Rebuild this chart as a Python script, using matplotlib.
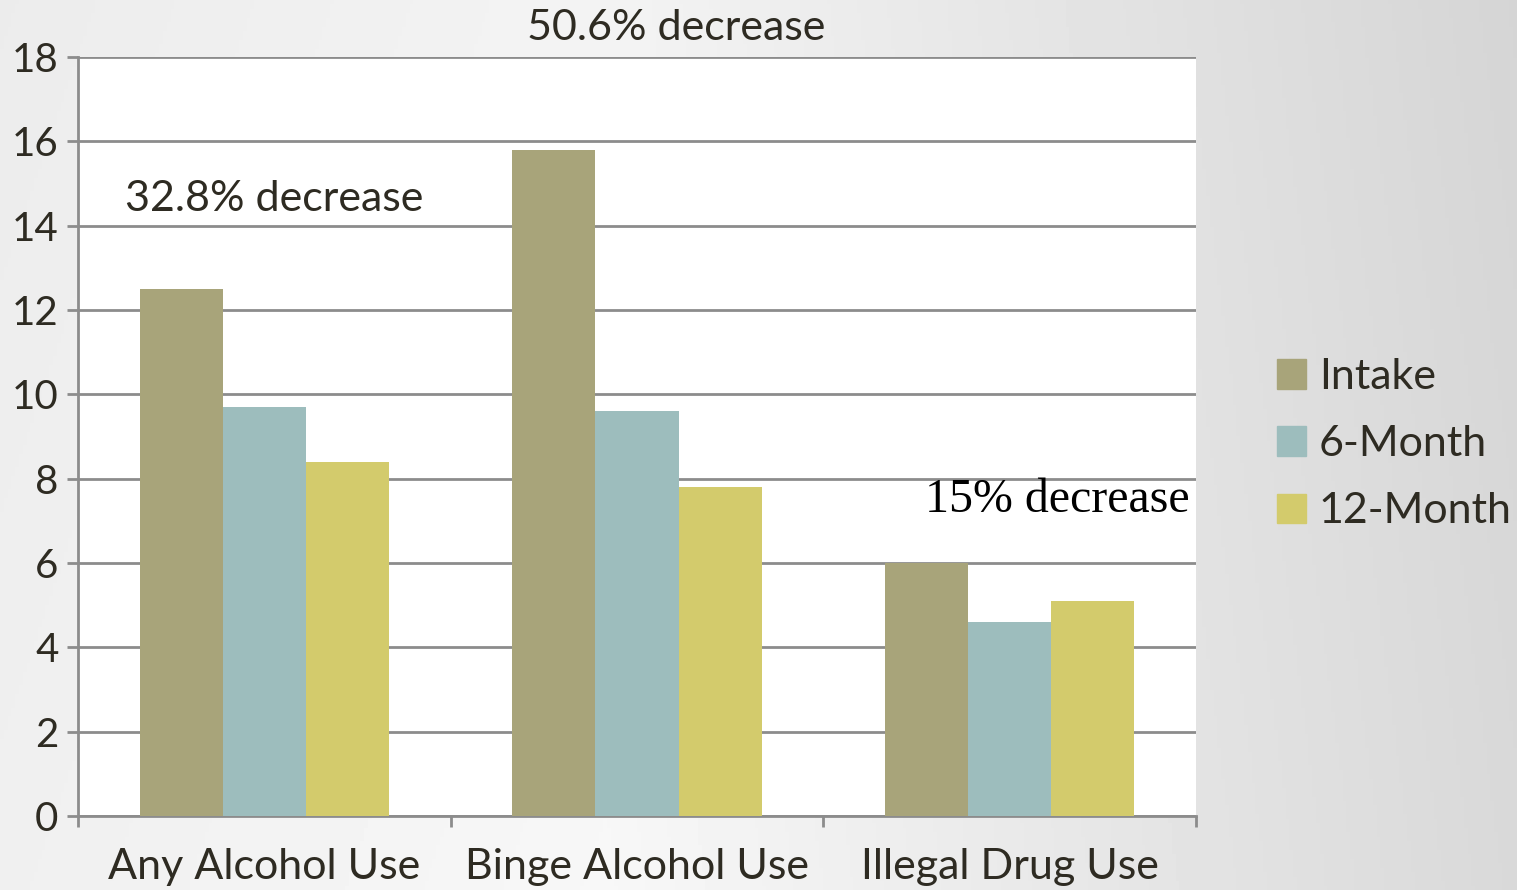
import numpy as np
import matplotlib.pyplot as plt
from matplotlib.patches import Patch

categories = ['Any Alcohol Use', 'Binge Alcohol Use', 'Illegal Drug Use']
series = ['Intake', '6-Month', '12-Month']
intake = [12.5, 15.8, 6.0]
six_month = [9.7, 9.6, 4.6]
twelve_month = [8.4, 7.8, 5.1]
notes = ['32.8% decrease', '50.6% decrease', '15% decrease']

colors = ['#a8a47a', '#9dbdbd', '#d3cb6c']
text_color = '#2e2b22'
grid_color = '#8c8c8c'
sans = 'Lato'

fig = plt.figure(figsize=(15.17, 8.9), dpi=100)

# slide-like grey gradient behind everything
bg = fig.add_axes([0, 0, 1, 1], zorder=-10)
xx = np.linspace(0, 1, 400)
yy = np.linspace(0, 1, 200)
X, Y = np.meshgrid(xx, yy)
shade = np.interp(X, [0, 0.4, 0.75, 1], [0.94, 0.97, 0.90, 0.85]) - 0.015 * (1 - Y)
bg.imshow(shade, cmap='gray', vmin=0, vmax=1, aspect='auto', extent=[0, 1, 0, 1])
bg.axis('off')

ax = fig.add_axes([0.0514, 0.0831, 0.7370, 0.8529])
ax.set_facecolor('white')

x = np.arange(len(categories))
width = 0.223
for i, (vals, name) in enumerate(zip([intake, six_month, twelve_month], series)):
    ax.bar(x + (i - 1) * width, vals, width, color=colors[i], label=name, zorder=3)

ax.set_xlim(-0.5, 2.5)
ax.set_ylim(0, 18)
ax.set_yticks(np.arange(0, 19, 2))
ax.yaxis.grid(True, color=grid_color, linewidth=2, zorder=0)
ax.set_axisbelow(True)

for side in ['top', 'right']:
    ax.spines[side].set_visible(False)
for side in ['left', 'bottom']:
    ax.spines[side].set_color(grid_color)
    ax.spines[side].set_linewidth(2)

ax.set_xticks(x)
ax.set_xticklabels(categories)
ax.set_xticks([-0.5, 0.5, 1.5, 2.5], minor=True)
ax.tick_params(axis='x', which='major', length=0, pad=23,
               labelsize=31, labelcolor=text_color)
ax.tick_params(axis='x', which='minor', length=8, width=2, color=grid_color)
ax.tick_params(axis='y', length=8, width=2, color=grid_color, pad=6,
               labelsize=29, labelcolor=text_color)
for lbl in ax.get_xticklabels() + ax.get_yticklabels():
    lbl.set_family(sans)

ax.text(-0.374, 14.63, notes[0], fontsize=31, family=sans, color=text_color,
        ha='left', va='center')
ax.text(1.105, 18.69, notes[1], fontsize=31, family=sans, color=text_color,
        ha='center', va='center', clip_on=False)
ax.text(2.484, 7.49, notes[2], fontsize=34.5, family='Liberation Serif', color='black',
        ha='right', va='center')

handles = [Patch(color=c, label=s) for c, s in zip(colors, series)]
fig.legend(handles=handles, loc='center left', bbox_to_anchor=(0.816, 0.501),
           frameon=False, prop={'family': sans, 'size': 31},
           handlelength=0.68, handleheight=0.68, handletextpad=0.3,
           labelspacing=0.68, labelcolor=text_color)

plt.savefig('out.png', dpi=100)
